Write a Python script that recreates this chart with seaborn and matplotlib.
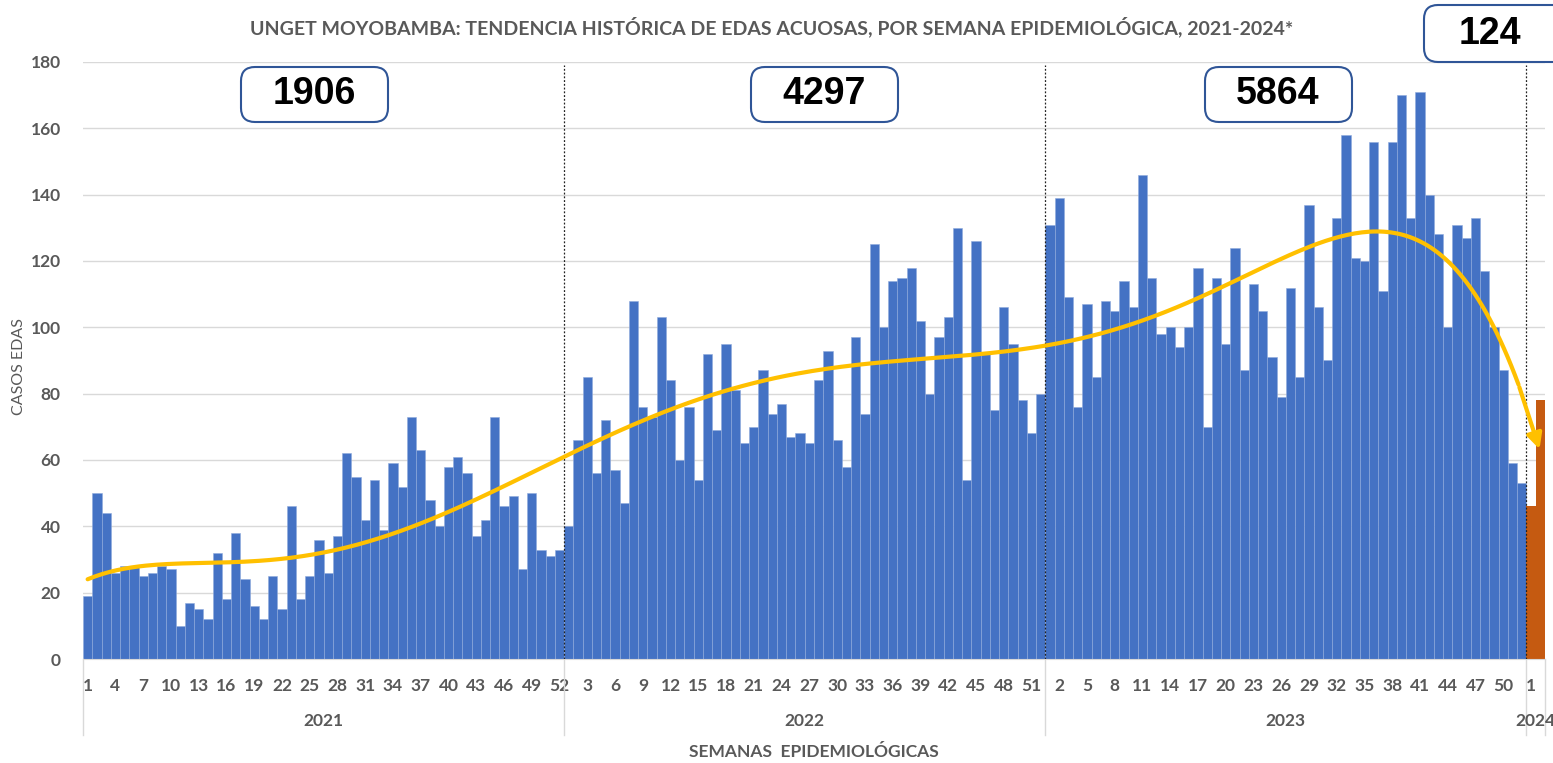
import numpy as np
import pandas as pd
import matplotlib
matplotlib.use("Agg")
import matplotlib.pyplot as plt
import seaborn as sns
from matplotlib.patches import FancyBboxPatch
import matplotlib.transforms as mtransforms

# casos semanales por año
casos_2021 = [19, 50, 44, 26, 28, 28, 25, 26, 28, 27, 10, 17, 15, 12, 32, 18, 38, 24, 16, 12,
              25, 15, 46, 18, 25, 36, 26, 37, 62, 55, 42, 54, 39, 59, 52, 73, 63, 48, 40, 58,
              61, 56, 37, 42, 73, 46, 49, 27, 50, 33, 31, 33]
casos_2022 = [40, 66, 85, 56, 72, 57, 47, 108, 76, 73, 103, 84, 60, 76, 54, 92, 69, 95, 81, 65,
              70, 87, 74, 77, 67, 68, 65, 84, 93, 66, 58, 97, 74, 125, 100, 114, 115, 118, 102, 80,
              97, 103, 130, 54, 126, 92, 75, 106, 95, 78, 68, 80]
casos_2023 = [131, 139, 109, 76, 107, 85, 108, 105, 114, 106, 146, 115, 98, 100, 94, 100, 118, 70, 115, 95,
              124, 87, 113, 105, 91, 79, 112, 85, 137, 106, 90, 133, 158, 121, 120, 156, 111, 156, 170, 133,
              171, 140, 128, 100, 131, 127, 133, 117, 100, 87, 59, 53]
casos_2024 = [46, 78]

anios = ["2021", "2022", "2023", "2024"]
series = [casos_2021, casos_2022, casos_2023, casos_2024]

rows = []
for anio, vals in zip(anios, series):
    for i, v in enumerate(vals):
        rows.append({"anio": anio, "semana": i + 1, "casos": v})
df = pd.DataFrame(rows)
df["pos"] = np.arange(len(df))
df["grupo"] = np.where(df["anio"] == "2024", "actual", "previo")

gris = "#595959"
azul = "#4472C4"
naranja = "#C55A11"
plt.rcParams["font.family"] = ["Lato", "DejaVu Sans"]

fig = plt.figure(figsize=(15.53, 7.63), dpi=100)
ax = fig.add_axes([83 / 1553, 1 - 659 / 763, (1545 - 83) / 1553, (659 - 62) / 763])

sns.barplot(data=df, x="pos", y="casos", hue="grupo", dodge=False, width=1.0,
            palette={"previo": azul, "actual": naranja}, saturation=1, legend=False,
            linewidth=0, ax=ax, zorder=2)
# borde claro solo en las barras azules
for p in ax.patches:
    r, g, b, _ = p.get_facecolor()
    if b > 0.5:
        p.set_edgecolor("#8FAADC")
        p.set_linewidth(0.4)

# línea de tendencia polinómica
coef = np.polyfit(df["pos"], df["casos"], 6)
xt = np.linspace(0, 157, 400)
yt = np.polyval(coef, xt)
ax.plot(xt[:-6], yt[:-6], color="#FFC000", lw=3, zorder=4, solid_capstyle="round")
ax.annotate("", xy=(xt[-1], yt[-1]), xytext=(xt[-7], yt[-7]),
            arrowprops=dict(arrowstyle="-|>,head_width=0.45,head_length=0.9",
                            color="#FFC000", lw=3), zorder=5)

ax.set_xlim(-0.5, len(df) - 0.5)
ax.set_ylim(0, 180)
ax.set_yticks(range(0, 181, 20))
ax.yaxis.grid(True, color="#D9D9D9", lw=1, zorder=0)
ax.xaxis.grid(False)
ax.set_axisbelow(True)
for s in ["top", "right", "left"]:
    ax.spines[s].set_visible(False)
ax.spines["bottom"].set_color("#D9D9D9")

ticks = df["pos"][::3]
ax.set_xticks(ticks)
ax.set_xticklabels(df["semana"][::3])
ax.tick_params(axis="x", length=0, pad=14, labelsize=12.5, labelcolor=gris)
ax.tick_params(axis="y", length=0, pad=16, labelsize=12.5, labelcolor=gris)
for lbl in ax.get_xticklabels() + ax.get_yticklabels():
    lbl.set_fontweight("bold")
ax.set_xlabel("")
ax.set_ylabel("CASOS EDAS", color=gris, fontsize=11.5)
ax.yaxis.set_label_coords(-0.039, 0.49)

# separadores de año y etiquetas
trans = mtransforms.blended_transform_factory(ax.transData, ax.transAxes)
limites = [-0.5]
acum = -0.5
for vals in series:
    acum += len(vals)
    limites.append(acum)
for b in limites:
    ax.plot([b, b], [0, -0.128], transform=trans, color="#D9D9D9", lw=1, clip_on=False)
for b in limites[1:-1]:
    ax.plot([b, b], [0, 179], color="#222222", lw=0.9, ls=(0, (1.5, 1.5)), zorder=3)
for i, anio in enumerate(anios):
    centro = (limites[i] + limites[i + 1]) / 2
    ax.text(centro, -0.104, anio, transform=trans, ha="center", va="center",
            fontsize=12.5, fontweight="bold", color=gris)

ax.text(0.5, -0.155, "SEMANAS  EPIDEMIOLÓGICAS", transform=ax.transAxes, ha="center",
        va="center", fontsize=12.5, fontweight="bold", color=gris)

fig.text(772 / 1553, 1 - 27 / 763,
         "UNGET MOYOBAMBA: TENDENCIA HISTÓRICA DE EDAS ACUOSAS, POR SEMANA EPIDEMIOLÓGICA, 2021-2024*",
         ha="center", va="center", fontsize=14, fontweight="bold", color=gris)

# cajas con totales anuales
totales = [sum(v) for v in series]
cajas = [(241, 67, 147, 55), (751, 67, 147, 55), (1205, 67, 147, 55), (1424, 5, 160, 57)]
centros_txt = [314, 824, 1278, 1490]
for (x0, y0, w, h), tot, cx in zip(cajas, totales, centros_txt):
    box = FancyBboxPatch((x0 / 1553, 1 - (y0 + h) / 763), w / 1553, h / 763,
                         boxstyle="round,pad=0,rounding_size=0.009",
                         transform=fig.transFigure, facecolor="white",
                         edgecolor="#2F5597", lw=1.5, zorder=6, mutation_aspect=1553 / 763)
    fig.add_artist(box)
    fig.text(cx / 1553, 1 - (y0 + h / 2) / 763, str(tot), ha="center", va="center",
             fontsize=27, fontweight="bold", family=["Liberation Sans", "DejaVu Sans"],
             color="black", zorder=7)

fig.savefig("out.png", dpi=100)
